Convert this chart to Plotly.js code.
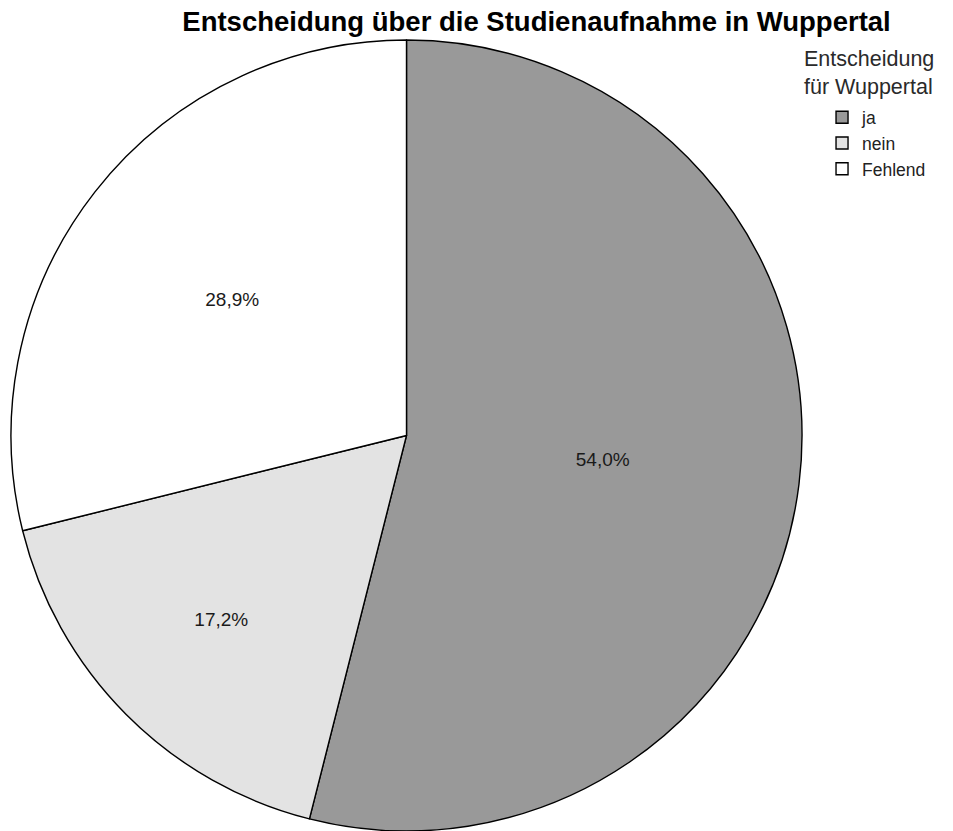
<!DOCTYPE html>
<html><head><meta charset="utf-8">
<script src="https://cdn.plot.ly/plotly-3.0.1.min.js"></script>
<style>html,body{margin:0;padding:0;background:#fff}</style>
</head><body>
<div id="chart" style="width:953px;height:831px"></div>
<script>
const labels = ["ja", "nein", "Fehlend"];
const values = [54.0, 17.2, 28.9];
const textLabels = ["54,0%", "17,2%", "28,9%"];
const colors = ["#999999", "#e3e3e3", "#ffffff"];
const legendTitleLines = ["Entscheidung", "für Wuppertal"];

const FONT = "Liberation Sans, Arial, sans-serif";

const trace = {
  type: "pie",
  labels: labels,
  values: values,
  text: textLabels,
  textinfo: "text",
  textposition: "inside",
  insidetextorientation: "horizontal",
  textfont: {family: FONT, size: 19, color: "#1a1a1a"},
  sort: false,
  direction: "clockwise",
  rotation: 0,
  marker: {colors: colors, line: {color: "#000", width: 1.4}},
  hoverinfo: "none"
};

const layout = {
  width: 953, height: 831,
  margin: {l: 10, r: 150, t: 40, b: 0, autoexpand: false},
  paper_bgcolor: "#fff",
  title: {text: "<b>Entscheidung über die Studienaufnahme in Wuppertal</b>",
          font: {family: FONT, size: 27.5, color: "#000"},
          x: 0.563, xanchor: "center", xref: "container",
          y: 0.974, yanchor: "middle", yref: "container"},
  showlegend: true,
  legend: {x: 1.024, xanchor: "left", y: 0.925, yanchor: "top",
           font: {family: FONT, size: 17.5, color: "#222"},
           tracegroupgap: 0, itemwidth: 30, bgcolor: "rgba(0,0,0,0)"},
  annotations: [{
    text: legendTitleLines.join("<br>"), xref: "paper", yref: "paper",
    x: 0.999, xanchor: "left", y: 0.994, yanchor: "top",
    showarrow: false, align: "left",
    font: {family: FONT, size: 21.5, color: "#2a2a2a"}
  }]
};
Plotly.newPlot("chart", [trace], layout, {displayModeBar: false});
</script>
</body></html>
